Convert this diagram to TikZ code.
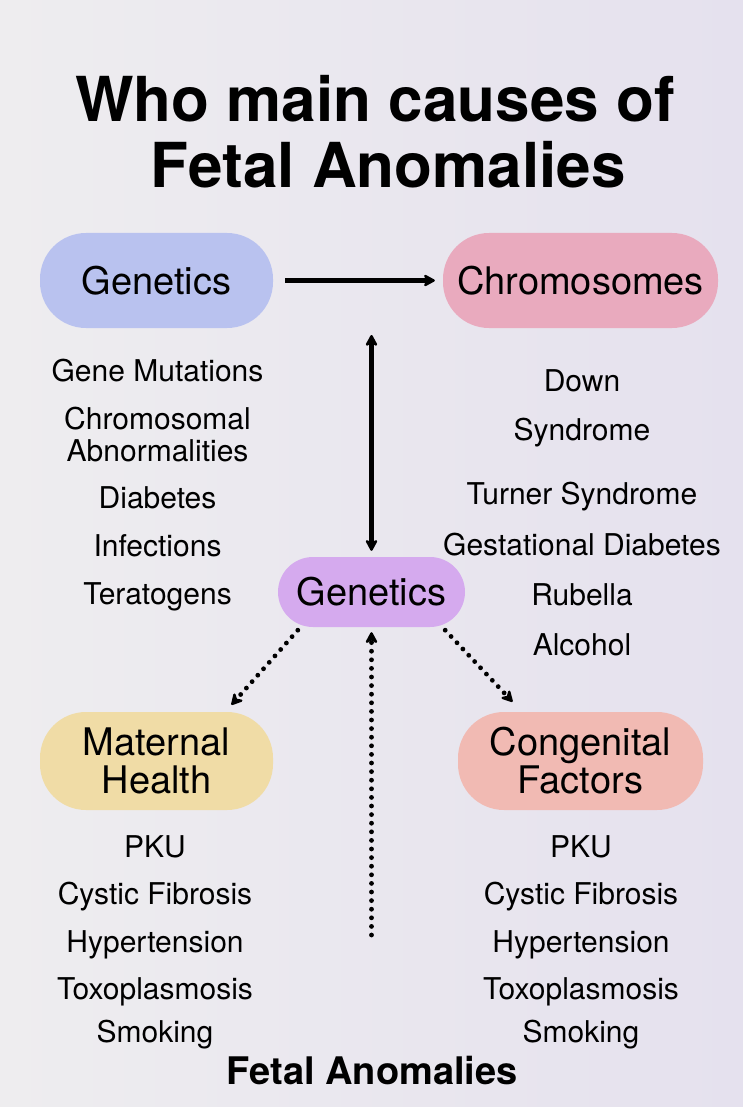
\documentclass[tikz,border=0pt]{standalone}
\usepackage{fontspec}
\setmainfont{TeX Gyre Heros}
\usetikzlibrary{arrows.meta,calc}
\definecolor{bgL}{HTML}{EEEDEF}
\definecolor{bgR}{HTML}{E5E1EE}
\definecolor{cGen}{HTML}{B9C2EF}
\definecolor{cChr}{HTML}{E9AABE}
\definecolor{cMid}{HTML}{D5AAEE}
\definecolor{cMat}{HTML}{F0DCA6}
\definecolor{cCon}{HTML}{F1BAB3}
\begin{document}
\begin{tikzpicture}[x=1pt,y=-1pt,
  pill/.style={rectangle, rounded corners=46pt, minimum height=95pt, inner sep=0pt,
    font=\fontsize{38}{38}\selectfont, align=center},
  item/.style={anchor=base, inner sep=0pt, font=\fontsize{30}{33}\selectfont},
  tip/.tip={Stealth[length=14pt,width=15pt,round]},
  solidarr/.style={line width=4.5pt, -tip},
  dotarr/.style={line width=4.8pt, line cap=round, dash pattern=on 0pt off 8.6pt, -tip}]
\useasboundingbox (0,0) rectangle (743,1107);
\shade[left color=bgL, right color=bgR] (0,0) rectangle (743,1107);

% title
\node[anchor=base, inner sep=0pt, font=\bfseries\fontsize{62}{66}\selectfont] (t1) at (375,122) {Who main causes of};
\node[anchor=base, inner sep=0pt, font=\bfseries\fontsize{62}{66}\selectfont] (t2) at (388,188) {Fetal Anomalies};

% pills
\node[pill, fill=cGen, minimum width=233pt] (genA) at (156.5,280.5) {Genetics};
\node[pill, fill=cChr, minimum width=275pt] (chrom) at (580.5,280.5) {Chromosomes};
\node[pill, fill=cMid, minimum width=187pt, minimum height=70pt, rounded corners=35pt] (mid) at (371.5,592) {Genetics};
\node[pill, fill=cMat, minimum width=233pt, minimum height=98pt] (mat) at (156.5,761) {Maternal\\Health};
\node[pill, fill=cCon, minimum width=245pt, minimum height=98pt] (cong) at (580.5,761) {Congenital\\Factors};

% left list
\node[item] (l1) at (157.5,381) {Gene Mutations};
\node[item] (l2) at (157.5,429) {Chromosomal};
\node[item] (l3) at (157.5,461) {Abnormalities};
\node[item] (l4) at (157.5,508) {Diabetes};
\node[item] (l5) at (157.5,556) {Infections};
\node[item] (l6) at (157.5,604) {Teratogens};

% right list
\node[item] (r1) at (582,391) {Down};
\node[item] (r2) at (582,440) {Syndrome};
\node[item] (r3) at (582,504) {Turner Syndrome};
\node[item] (r4) at (582,555) {Gestational Diabetes};
\node[item] (r5) at (582,605) {Rubella};
\node[item] (r6) at (582,655) {Alcohol};

% bottom left list
\node[item] (bl1) at (155,857) {PKU};
\node[item] (bl2) at (155,904) {Cystic Fibrosis};
\node[item] (bl3) at (155,952) {Hypertension};
\node[item] (bl4) at (155,999) {Toxoplasmosis};
\node[item] (bl5) at (155,1042) {Smoking};

% bottom right list
\node[item] (br1) at (581,857) {PKU};
\node[item] (br2) at (581,904) {Cystic Fibrosis};
\node[item] (br3) at (581,952) {Hypertension};
\node[item] (br4) at (581,999) {Toxoplasmosis};
\node[item] (br5) at (581,1042) {Smoking};

\node[anchor=base, inner sep=0pt, font=\bfseries\fontsize{38}{40}\selectfont] (foot) at (372,1084) {Fetal Anomalies};

% connectors
\coordinate (vtop) at (371.5,335);
\coordinate (vbot) at (371.5,935);
\draw[solidarr, shorten <=12pt, shorten >=8pt] (genA) -- (chrom);
\draw[solidarr, tip-tip, shorten >=6pt] (vtop) -- (mid.north);
\draw[dotarr] (vbot) -- ($(mid.south)+(0,5)$);
\draw[dotarr] ($(mid.south west)+(20,3)$) -- ($(mat.north)+(75,-7)$);
\draw[dotarr] ($(mid.south east)+(-20,3)$) -- ($(cong.north)+(-68,-10)$);
\end{tikzpicture}
\end{document}
